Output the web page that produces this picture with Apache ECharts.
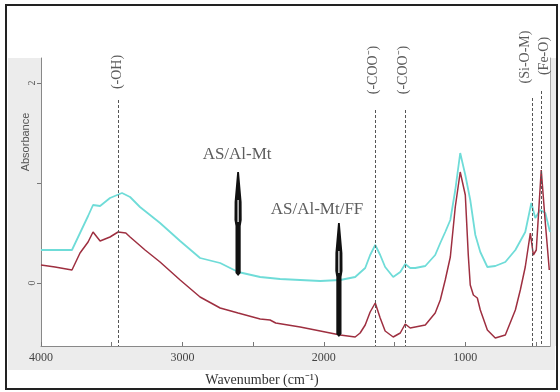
<!DOCTYPE html>
<html><head><meta charset="utf-8">
<script src="https://cdn.jsdelivr.net/npm/echarts@6/dist/echarts.min.js"></script>
<style>html,body{margin:0;padding:0;background:#fff}#c{width:560px;height:392px}</style>
</head><body><div id="c"></div>
<script>
// AS/Al-Mt (cyan)
const cyanWn = [4000,3901,3781,3724,3667,3632,3582,3512,3427,3370,3300,3158,3016,2875,2733,2606,2450,2309,2167,2025,1884,1778,1707,1672,1636,1601,1566,1509,1459,1424,1389,1353,1282,1212,1176,1141,1105,1070,1035,999,964,928,893,843,787,716,645,575,532,504,469,433,400];
const cyanAbs = [0.33,0.33,0.33,0.50,0.67,0.78,0.77,0.85,0.90,0.86,0.76,0.60,0.42,0.25,0.20,0.11,0.06,0.04,0.03,0.02,0.03,0.06,0.15,0.28,0.38,0.28,0.16,0.06,0.11,0.19,0.15,0.15,0.17,0.28,0.40,0.51,0.63,0.93,1.30,1.08,0.83,0.48,0.31,0.16,0.17,0.21,0.33,0.51,0.80,0.65,0.73,0.70,0.51];
// AS/Al-Mt/FF (dark red)
const redWn = [4000,3901,3781,3724,3667,3632,3582,3512,3455,3400,3370,3264,3158,3016,2875,2733,2606,2450,2380,2340,2167,2025,1884,1778,1743,1707,1672,1636,1601,1566,1509,1459,1424,1389,1353,1282,1212,1176,1141,1105,1070,1035,999,978,964,942,914,893,843,787,716,645,610,575,539,518,497,462,433,405];
const redAbs = [0.18,0.16,0.13,0.30,0.41,0.51,0.42,0.46,0.51,0.50,0.46,0.33,0.21,0.03,-0.14,-0.25,-0.30,-0.36,-0.37,-0.40,-0.44,-0.48,-0.52,-0.54,-0.50,-0.42,-0.29,-0.20,-0.35,-0.48,-0.54,-0.50,-0.41,-0.45,-0.44,-0.42,-0.30,-0.17,0.03,0.26,0.76,1.11,0.88,0.28,-0.02,-0.12,-0.15,-0.27,-0.47,-0.55,-0.52,-0.27,-0.07,0.16,0.50,0.28,0.33,1.13,0.60,0.13];
// peak assignments
const peakNames = ['(-OH)','(-COO\u207B)','(-COO\u207B)','(Si-O-M)','(Fe-O)'];
const peakWn = [3455,1636,1424,525,462];
const peakLabelWn = [3460,1650,1438,575,440];
const peakLabelY = [2.11,2.13,2.13,2.26,2.27];
const peakLineTop = [1.83,1.73,1.73,1.85,1.92];
// arrows
const arrowNames = ['AS/Al-Mt','AS/Al-Mt/FF'];
const arrowWn = [2606,1893];
const arrowBase = [0.08,-0.53];
const arrowTip = [1.11,0.60];
const arrowLabelWn = [2613,2048];
const arrowLabelY = [1.28,0.73];
// ticks
const xTickValues = [4000,3500,3000,2500,2000,1500,1000,500];
const xLabelValues = [4000,3000,2000,1000];
const yTickValues = [0,1,2];
const yLabelValues = [0,2];
const Y_MIN = -0.63, Y_MAX = 2.25;

const chart = echarts.init(document.getElementById('c'));
const serif = 'Liberation Serif';
const option = {
  animation: false,
  grid: {left: 41, right: 10, top: 58, bottom: 46},
  xAxis: {
    type: 'value', min: 400, max: 4000, inverse: true,
    axisLine: {onZero: false, lineStyle: {color: '#888', width: 1}},
    axisTick: {customValues: xTickValues, inside: true, length: 4, lineStyle: {color: '#777'}},
    axisLabel: {customValues: xLabelValues, formatter: v => String(v), fontFamily: serif, fontSize: 12, color: '#444', margin: 6},
    splitLine: {show: false}
  },
  yAxis: [{
    type: 'value', min: Y_MIN, max: Y_MAX,
    axisLine: {show: true, lineStyle: {color: '#888', width: 1}},
    axisTick: {show: true, customValues: yTickValues, length: 4, lineStyle: {color: '#777'}},
    axisLabel: {customValues: yLabelValues, formatter: v => (yLabelValues.indexOf(v) >= 0 ? String(v) : ''), rotate: 90, fontFamily: serif, fontSize: 10, color: '#555', margin: 4},
    splitLine: {show: false}
  }, {
    type: 'value', min: Y_MIN, max: Y_MAX, position: 'right',
    axisLine: {show: true, lineStyle: {color: '#aaa', width: 1}},
    axisTick: {show: false}, axisLabel: {show: false}, splitLine: {show: false}
  }],
  graphic: [
    {type: 'rect', shape: {x: 8, y: 58, width: 33, height: 312}, style: {fill: '#ececec'}, z: -10},
    {type: 'rect', shape: {x: 41, y: 346, width: 514, height: 24}, style: {fill: '#ececec'}, z: -10},
    {type: 'rect', shape: {x: 550, y: 58, width: 6, height: 288}, style: {fill: '#ececec'}, z: -10},
    {type: 'text', x: 262, y: 380, style: {text: 'Wavenumber (cm\u207B\u00B9)', font: '14px "Liberation Serif"', fill: '#333', textAlign: 'center', textVerticalAlign: 'middle'}, z: 10},
    {type: 'text', x: 26, y: 142, rotation: Math.PI / 2, style: {text: 'Absorbance', font: '11px "Liberation Sans"', fill: '#555', textAlign: 'center', textVerticalAlign: 'middle'}, z: 10},
    {type: 'rect', shape: {x: 6, y: 5, width: 551, height: 384}, style: {fill: 'none', stroke: '#222', lineWidth: 2}, z: 100}
  ],
  series: [
    {
      name: 'AS/Al-Mt', type: 'line', showSymbol: false, z: 3,
      data: cyanWn.map((w, i) => [w, cyanAbs[i]]),
      lineStyle: {color: '#6fdcd8', width: 1.8}
    },
    {
      name: 'AS/Al-Mt/FF', type: 'line', showSymbol: false, z: 4,
      data: redWn.map((w, i) => [w, redAbs[i]]),
      lineStyle: {color: '#9e2f40', width: 1.5},
      markLine: {
        silent: true, symbol: 'none', label: {show: false},
        lineStyle: {color: '#555', type: [3, 2], width: 1},
        data: peakWn.map((w, i) => [{coord: [w, peakLineTop[i]]}, {coord: [w, Y_MIN]}])
      }
    },
    {
      name: 'peakLabels', type: 'scatter', clip: false, symbolSize: 1, z: 6,
      itemStyle: {color: 'rgba(0,0,0,0)'},
      data: peakLabelWn.map((w, i) => ({name: peakNames[i], value: [w, peakLabelY[i]]})),
      label: {show: true, position: 'inside', rotate: 90, formatter: '{b}', fontFamily: serif, fontSize: 14, color: '#333'}
    },
    {
      name: 'arrowLabels', type: 'scatter', clip: false, symbolSize: 1, z: 6,
      itemStyle: {color: 'rgba(0,0,0,0)'},
      data: arrowLabelWn.map((w, i) => ({name: arrowNames[i], value: [w, arrowLabelY[i]]})),
      label: {show: true, position: 'inside', formatter: '{b}', fontFamily: serif, fontSize: 17, color: '#333'}
    },
    {
      name: 'arrows', type: 'custom', z: 7, clip: false,
      data: arrowWn.map((w, i) => [w, arrowBase[i], arrowTip[i]]),
      renderItem: function (params, api) {
        const b = api.coord([api.value(0), api.value(1)]);
        const t = api.coord([api.value(0), api.value(2)]);
        const x = t[0], ty = t[1], by = b[1];
        return {type: 'group', children: [
          {type: 'polygon', shape: {points: [[x - 0.9, ty], [x + 0.9, ty], [x + 3.5, ty + 30], [x + 3.6, ty + 48], [x + 2.6, ty + 54], [x + 2.6, by - 2], [x, by + 1], [x - 2.6, by - 2], [x - 2.6, ty + 54], [x - 3.6, ty + 48], [x - 3.5, ty + 30]]}, style: {fill: '#111'}},
          {type: 'line', shape: {x1: x, y1: ty + 28, x2: x, y2: ty + 50}, style: {stroke: '#fff', lineWidth: 1.2}}
        ]};
      }
    }
  ]
};
chart.setOption(option);
</script>
</body></html>
